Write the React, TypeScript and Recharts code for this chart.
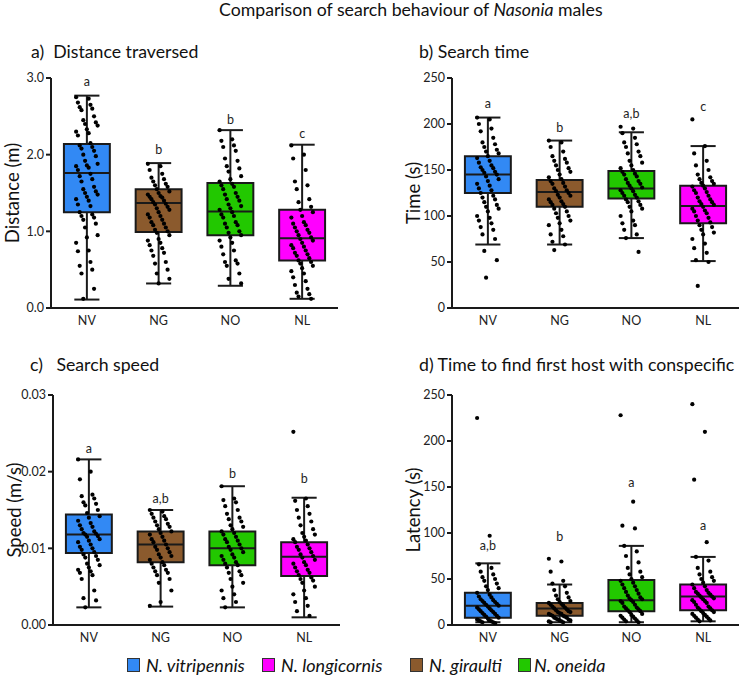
import React from 'react';
import { ScatterChart, Scatter, XAxis, YAxis, ReferenceArea, ReferenceLine, ReferenceDot } from 'recharts';

const groups = ['NV', 'NG', 'NO', 'NL'];
const boxColors = ['#3289f4', '#8b5a2d', '#22c800', '#ff00ff'];

// box stats per group: [min, q1, median, q3, max]
const distanceBoxes = [
  [0.11, 1.25, 1.76, 2.14, 2.77],
  [0.32, 0.99, 1.37, 1.55, 1.89],
  [0.29, 0.95, 1.26, 1.63, 2.32],
  [0.12, 0.62, 0.91, 1.28, 2.13],
];
const distanceLetters = ['a', 'b', 'b', 'c'];
const distanceLetterAt = [2.96, 2.07, 2.46, 2.27];

const distanceNV = [2.75, 2.73, 2.68, 2.65, 2.62, 2.6, 2.58, 2.5, 2.45, 2.42, 2.4, 2.38, 2.33, 2.3, 2.28, 2.25, 2.15, 2.12, 2.1, 2.08, 2.05, 2.0, 1.98, 1.92, 1.88, 1.86, 1.85, 1.83, 1.8, 1.75, 1.72, 1.68, 1.65, 1.58, 1.55, 1.52, 1.5, 1.48, 1.45, 1.42, 1.4, 1.35, 1.33, 1.25, 1.22, 1.2, 1.18, 1.15, 1.1, 1.05, 0.95, 0.92, 0.85, 0.75, 0.74, 0.6, 0.55, 0.5, 0.45, 0.25, 0.12];
const distanceNG = [1.88, 1.85, 1.8, 1.75, 1.7, 1.68, 1.65, 1.62, 1.6, 1.58, 1.55, 1.52, 1.5, 1.48, 1.46, 1.45, 1.44, 1.42, 1.4, 1.38, 1.36, 1.35, 1.32, 1.3, 1.28, 1.25, 1.22, 1.2, 1.18, 1.15, 1.12, 1.1, 1.08, 1.05, 1.02, 1.0, 0.98, 0.95, 0.9, 0.88, 0.85, 0.82, 0.78, 0.75, 0.72, 0.68, 0.6, 0.58, 0.5, 0.45, 0.38, 0.32];
const distanceNO = [2.32, 2.2, 2.18, 2.12, 2.1, 2.05, 1.95, 1.92, 1.85, 1.82, 1.78, 1.72, 1.68, 1.65, 1.62, 1.6, 1.58, 1.55, 1.5, 1.48, 1.45, 1.42, 1.4, 1.35, 1.33, 1.3, 1.28, 1.25, 1.22, 1.2, 1.18, 1.12, 1.1, 1.08, 1.05, 1.0, 0.98, 0.95, 0.92, 0.88, 0.85, 0.8, 0.75, 0.7, 0.62, 0.6, 0.58, 0.55, 0.45, 0.38, 0.32];
const distanceNL = [2.12, 2.0, 1.95, 1.8, 1.65, 1.6, 1.55, 1.42, 1.38, 1.32, 1.28, 1.25, 1.2, 1.18, 1.12, 1.1, 1.08, 1.05, 1.02, 1.0, 0.98, 0.95, 0.92, 0.9, 0.88, 0.85, 0.82, 0.8, 0.78, 0.75, 0.72, 0.7, 0.68, 0.65, 0.62, 0.6, 0.58, 0.55, 0.52, 0.48, 0.45, 0.4, 0.35, 0.3, 0.25, 0.2, 0.18, 0.15, 0.12];

const timeBoxes = [
  [69, 125, 145, 165, 207],
  [69, 110, 126, 139, 182],
  [76, 119, 130, 149, 191],
  [51, 92, 111, 133, 176],
];
const timeLetters = ['a', 'b', 'a,b', 'c'];
const timeLetterAt = [222, 196, 211, 219];

const timeNV = [207, 205, 200, 195, 192, 185, 180, 178, 175, 172, 170, 168, 165, 163, 160, 158, 155, 153, 152, 150, 148, 147, 145, 143, 140, 138, 135, 133, 130, 128, 125, 122, 120, 118, 115, 112, 110, 108, 105, 100, 98, 95, 92, 88, 85, 80, 75, 62, 52, 33];
const timeNG = [182, 180, 175, 170, 165, 162, 160, 158, 155, 152, 150, 148, 145, 142, 140, 138, 136, 135, 132, 130, 128, 127, 125, 123, 122, 120, 118, 116, 115, 113, 112, 110, 108, 105, 103, 100, 98, 95, 92, 90, 85, 80, 78, 72, 69, 63];
const timeNO = [197, 195, 190, 185, 180, 178, 175, 170, 168, 165, 160, 158, 155, 152, 150, 148, 146, 145, 143, 140, 138, 136, 135, 133, 131, 130, 128, 127, 125, 123, 122, 120, 118, 116, 115, 112, 110, 108, 105, 100, 95, 92, 90, 85, 80, 76, 61];
const timeNL = [205, 176, 168, 160, 155, 150, 145, 142, 140, 138, 136, 135, 133, 132, 130, 128, 126, 125, 122, 120, 118, 116, 115, 113, 112, 110, 108, 106, 105, 103, 100, 98, 95, 93, 90, 88, 85, 82, 80, 75, 70, 65, 60, 52, 50, 24];

const speedBoxes = [
  [0.0023, 0.0094, 0.0118, 0.0144, 0.0216],
  [0.0024, 0.0082, 0.0105, 0.0122, 0.015],
  [0.0023, 0.0078, 0.01, 0.0122, 0.0181],
  [0.001, 0.0064, 0.0089, 0.0108, 0.0166],
];
const speedLetters = ['a', 'a,b', 'b', 'b'];
const speedLetterAt = [0.023, 0.0165, 0.0197, 0.0191];

const speedNV = [0.0216, 0.02, 0.019, 0.017, 0.0168, 0.0165, 0.016, 0.0158, 0.0156, 0.015, 0.0146, 0.0142, 0.014, 0.0136, 0.0133, 0.013, 0.0128, 0.0125, 0.0122, 0.012, 0.0119, 0.0118, 0.0116, 0.0115, 0.0112, 0.011, 0.0108, 0.0105, 0.0102, 0.01, 0.0098, 0.0095, 0.0092, 0.009, 0.0088, 0.0085, 0.008, 0.0078, 0.0075, 0.0072, 0.007, 0.0068, 0.0065, 0.006, 0.0045, 0.0035, 0.0032, 0.0023];
const speedNG = [0.015, 0.0148, 0.0145, 0.0142, 0.014, 0.0138, 0.0135, 0.0132, 0.013, 0.0128, 0.0125, 0.0122, 0.012, 0.0118, 0.0115, 0.0112, 0.011, 0.0108, 0.0105, 0.0102, 0.01, 0.0098, 0.0095, 0.0092, 0.009, 0.0088, 0.0085, 0.0082, 0.008, 0.0078, 0.0075, 0.0072, 0.007, 0.0068, 0.0065, 0.006, 0.0055, 0.0045, 0.003, 0.0025];
const speedNO = [0.0181, 0.0165, 0.0163, 0.016, 0.0155, 0.015, 0.0145, 0.014, 0.0138, 0.0135, 0.013, 0.0128, 0.0125, 0.0122, 0.012, 0.0118, 0.0115, 0.0112, 0.011, 0.0108, 0.0105, 0.0102, 0.01, 0.0098, 0.0095, 0.0092, 0.009, 0.0088, 0.0085, 0.0082, 0.008, 0.0078, 0.0075, 0.007, 0.0068, 0.0065, 0.006, 0.0055, 0.005, 0.0045, 0.004, 0.0035, 0.003, 0.0023];
const speedNL = [0.0252, 0.0165, 0.0162, 0.0155, 0.015, 0.0145, 0.014, 0.0135, 0.013, 0.0125, 0.012, 0.0118, 0.0115, 0.0112, 0.011, 0.0108, 0.0105, 0.0102, 0.01, 0.0098, 0.0095, 0.0092, 0.009, 0.0088, 0.0085, 0.0082, 0.008, 0.0078, 0.0075, 0.0072, 0.007, 0.0068, 0.0065, 0.0062, 0.006, 0.0058, 0.0055, 0.005, 0.0045, 0.004, 0.0035, 0.003, 0.0025, 0.0018, 0.0012];

const latencyBoxes = [
  [3, 8, 21, 35, 67],
  [3, 10, 18, 24, 44],
  [3, 15, 27, 49, 86],
  [4, 16, 31, 44, 74],
];
const latencyLetters = ['a,b', 'b', 'a', 'a'];
const latencyLetterAt = [86, 96, 155, 108];

const latencyNV = [225, 97, 66, 62, 58, 55, 52, 50, 48, 45, 42, 40, 38, 35, 33, 31, 30, 28, 27, 26, 25, 24, 23, 22, 21, 20, 19, 18, 17, 16, 15, 14, 13, 12, 11, 10, 9, 8, 7, 6, 5, 5, 4, 4, 3, 3, 2];
const latencyNG = [72, 69, 58, 48, 45, 42, 38, 35, 32, 30, 28, 26, 25, 24, 23, 22, 21, 20, 19, 18, 17, 16, 15, 14, 14, 13, 12, 12, 11, 10, 10, 9, 8, 8, 7, 6, 6, 5, 5, 4, 4, 3, 3];
const latencyNO = [228, 134, 108, 105, 86, 80, 75, 68, 62, 58, 55, 52, 50, 48, 46, 44, 42, 40, 38, 36, 34, 32, 30, 29, 28, 27, 26, 25, 24, 22, 20, 19, 18, 17, 16, 15, 14, 12, 11, 10, 9, 8, 7, 6, 5, 4, 3];
const latencyNL = [240, 210, 158, 90, 74, 70, 62, 58, 55, 52, 50, 48, 46, 44, 42, 40, 38, 36, 35, 34, 33, 32, 31, 30, 29, 28, 27, 26, 25, 24, 22, 20, 19, 18, 17, 16, 15, 14, 13, 12, 11, 10, 9, 8, 7, 6, 5, 4];

const legendNames = ['N. vitripennis', 'N. longicornis', 'N. giraulti', 'N. oneida'];
const legendColors = ['#3289f4', '#ff00ff', '#8b5a2d', '#22c800'];

const INK = '#1a1a1a';
const FONT = 'Lato, "Open Sans", sans-serif';
const BOX_HALF = 0.32;
const CAP_HALF = 0.175;

// spread points sideways so they don't sit on one line
const jitter = (i: number) => ((((i * 7) % 13) - 6) / 6) * 0.15;

const Dot = (p: any) => <circle cx={p.cx} cy={p.cy} r={2.1} fill="#000" />;

interface PanelProps {
  left: number;
  top: number;
  boxes: number[][];
  points: number[][];
  letters: string[];
  letterAt: number[];
  domain: [number, number];
  ticks: number[];
  fmt: (v: number) => string;
  ylabel: string;
}

function BoxPanel({ left, top, boxes, points, letters, letterAt, domain, ticks, fmt, ylabel }: PanelProps) {
  const dots = points.flatMap((vals, g) => vals.map((v, i) => ({ x: g + jitter(i), y: v })));

  return (
    <div style={{ position: 'absolute', left, top }}>
      <ScatterChart width={338} height={278} margin={{ top: 18, right: 0, bottom: 0, left: 0 }}>
        <XAxis
          type="number"
          dataKey="x"
          domain={[-0.5, 3.5]}
          ticks={[0, 1, 2, 3]}
          interval={0}
          tickFormatter={(v) => groups[v]}
          tickLine={false}
          axisLine={{ stroke: INK, strokeWidth: 2 }}
          tick={{ fill: '#222', fontSize: 12.5, fontFamily: FONT }}
          height={30}
          allowDataOverflow
        />
        <YAxis
          type="number"
          dataKey="y"
          domain={domain}
          ticks={ticks}
          interval={0}
          tickFormatter={fmt}
          width={51}
          tickSize={5}
          axisLine={{ stroke: INK, strokeWidth: 2 }}
          tickLine={{ stroke: INK, strokeWidth: 2 }}
          tick={{ fill: '#222', fontSize: 12.5, fontFamily: FONT }}
          allowDataOverflow
          label={{ value: ylabel, angle: -90, position: 'insideLeft', offset: 12, style: { textAnchor: 'middle', fontSize: 18.5, fill: '#111', fontFamily: FONT } }}
        />
        {boxes.map((b, g) => (
          <ReferenceLine key={`wl${g}`} segment={[{ x: g, y: b[0] }, { x: g, y: b[1] }]} stroke={INK} strokeWidth={2} />
        ))}
        {boxes.map((b, g) => (
          <ReferenceLine key={`wh${g}`} segment={[{ x: g, y: b[3] }, { x: g, y: b[4] }]} stroke={INK} strokeWidth={2} />
        ))}
        {boxes.map((b, g) => (
          <ReferenceLine key={`cl${g}`} segment={[{ x: g - CAP_HALF, y: b[0] }, { x: g + CAP_HALF, y: b[0] }]} stroke={INK} strokeWidth={2} />
        ))}
        {boxes.map((b, g) => (
          <ReferenceLine key={`ch${g}`} segment={[{ x: g - CAP_HALF, y: b[4] }, { x: g + CAP_HALF, y: b[4] }]} stroke={INK} strokeWidth={2} />
        ))}
        {boxes.map((b, g) => (
          <ReferenceArea key={`bx${g}`} x1={g - BOX_HALF} x2={g + BOX_HALF} y1={b[1]} y2={b[3]} fill={boxColors[g]} fillOpacity={1} stroke={INK} strokeWidth={2} />
        ))}
        {boxes.map((b, g) => (
          <ReferenceLine key={`md${g}`} segment={[{ x: g - BOX_HALF, y: b[2] }, { x: g + BOX_HALF, y: b[2] }]} stroke={INK} strokeWidth={2} />
        ))}
        <Scatter data={dots} shape={Dot} fill="#000" isAnimationActive={false} />
        {letters.map((t, g) => (
          <ReferenceDot
            key={`lt${g}`}
            x={g}
            y={letterAt[g]}
            r={0}
            stroke="none"
            fill="none"
            label={{ value: t, position: 'center', fill: '#1e1e1e', fontSize: 12.5, fontFamily: FONT }}
          />
        ))}
      </ScatterChart>
    </div>
  );
}

const titleStyle: React.CSSProperties = {
  position: 'absolute',
  fontSize: 17.7,
  color: '#111',
  whiteSpace: 'pre',
  lineHeight: '20px',
};

export default function App() {
  return (
    <div style={{ position: 'absolute', left: 0, top: 0, width: 739, height: 681, background: '#fff', fontFamily: FONT, overflow: 'hidden' }}>
      <div style={{ ...titleStyle, left: 219, top: 0 }}>
        Comparison of search behaviour of <i>Nasonia</i> males
      </div>
      <div style={{ ...titleStyle, left: 31, top: 42 }}>a)  Distance traversed</div>
      <div style={{ ...titleStyle, left: 419, top: 42 }}>b) Search time</div>
      <div style={{ ...titleStyle, left: 30, top: 355 }}>c)   Search speed</div>
      <div style={{ ...titleStyle, left: 419, top: 355 }}>d) Time to find first host with conspecific</div>

      <BoxPanel
        left={0}
        top={60}
        boxes={distanceBoxes}
        points={[distanceNV, distanceNG, distanceNO, distanceNL]}
        letters={distanceLetters}
        letterAt={distanceLetterAt}
        domain={[0, 3]}
        ticks={[0, 1, 2, 3]}
        fmt={(v) => v.toFixed(1)}
        ylabel="Distance (m)"
      />
      <BoxPanel
        left={401}
        top={60}
        boxes={timeBoxes}
        points={[timeNV, timeNG, timeNO, timeNL]}
        letters={timeLetters}
        letterAt={timeLetterAt}
        domain={[0, 250]}
        ticks={[0, 50, 100, 150, 200, 250]}
        fmt={(v) => String(v)}
        ylabel="Time (s)"
      />
      <BoxPanel
        left={2}
        top={377}
        boxes={speedBoxes}
        points={[speedNV, speedNG, speedNO, speedNL]}
        letters={speedLetters}
        letterAt={speedLetterAt}
        domain={[0, 0.03]}
        ticks={[0, 0.01, 0.02, 0.03]}
        fmt={(v) => v.toFixed(2)}
        ylabel="Speed (m/s)"
      />
      <BoxPanel
        left={401}
        top={377}
        boxes={latencyBoxes}
        points={[latencyNV, latencyNG, latencyNO, latencyNL]}
        letters={latencyLetters}
        letterAt={latencyLetterAt}
        domain={[0, 250]}
        ticks={[0, 50, 100, 150, 200, 250]}
        fmt={(v) => String(v)}
        ylabel="Latency (s)"
      />

      {legendNames.map((n, i) => (
        <div
          key={n}
          style={{ position: 'absolute', left: [127, 262, 410, 518][i], top: 654, display: 'flex', alignItems: 'center', fontSize: 18, fontStyle: 'italic', color: '#111', whiteSpace: 'pre', lineHeight: '22px' }}
        >
          <span style={{ display: 'inline-block', width: 11, height: 12, background: legendColors[i], border: '1px solid #333', marginRight: i === 3 ? 3 : 6 }} />
          <span>{n}</span>
        </div>
      ))}
    </div>
  );
}
